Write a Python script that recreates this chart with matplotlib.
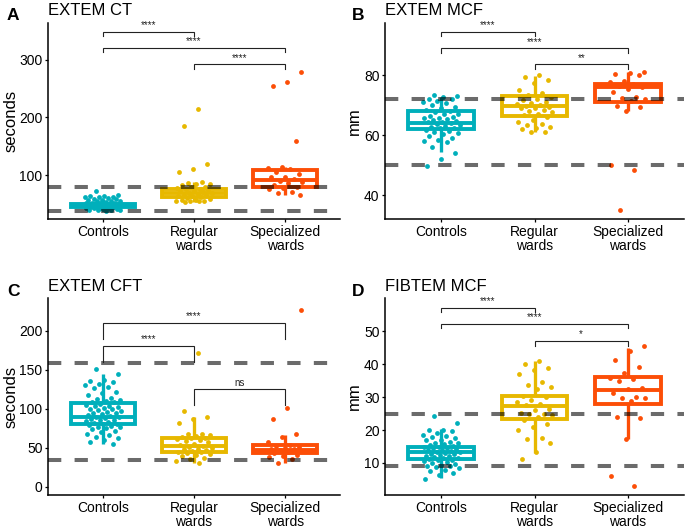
import matplotlib
matplotlib.use('Agg')
import matplotlib.pyplot as plt
import numpy as np

plt.rcParams['font.family'] = ['Liberation Sans', 'DejaVu Sans']

# ---------------- data ----------------
groups = ['Controls', 'Regular\nwards', 'Specialized\nwards']
colors = ['#00AFBB', '#E7B800', '#FC4E07']

# Panel A: EXTEM CT (seconds)
a_controls = [72, 65, 64, 63, 62, 62, 61, 60, 59, 58, 57, 56, 55, 54, 54, 53, 52, 52, 51, 51,
              50, 50, 49, 49, 48, 48, 48, 47, 47, 47, 46, 46, 46, 45, 45, 45, 44, 44, 44, 43,
              43, 42, 42, 41, 41, 40, 40, 39, 39, 38]
a_regular = [214, 186, 120, 111, 105, 87, 86, 85, 84, 83, 80, 79, 77, 76, 75, 74, 73, 72, 70,
             69, 68, 67, 66, 65, 64, 63, 62, 60, 58, 57, 56, 55, 55, 54, 54, 53]
a_special = [279, 261, 255, 159, 114, 112, 110, 105, 101, 97, 96, 93, 90, 88, 86, 82, 80, 78,
             75, 71, 68, 65]
# box stats: (q1, median, q3, whisker low, whisker high)
a_boxes = [(44, 47, 50, 38, 59), (62, 68, 75, 53, 87), (80, 91, 108, 65, 114)]
a_refs = [38, 79]
a_brackets = [(1, 2, 349, '****', 7.5), (1, 3, 321, '****', 7.5), (2, 3, 292.5, '****', 7.5)]
a_yticks = [100, 200, 300]

# Panel B: EXTEM MCF (mm)
b_controls = [73.4, 73.1, 72.8, 72.3, 72.0, 71.6, 71.2, 70.8, 70.1, 69.5, 69.0, 68.6, 68.2, 67.8,
              67.3, 67.0, 66.5, 66.2, 65.9, 65.7, 65.4, 65.0, 64.8, 64.5, 64.3, 64.0, 63.8, 63.5,
              63.2, 62.9, 62.6, 62.3, 61.8, 61.5, 61.2, 60.7, 60.3, 59.8, 59.0, 58.4, 58.0, 57.8,
              56.2, 54.0, 52.1, 49.8]
b_regular = [80.3, 79.5, 78.4, 77.5, 75.1, 74.3, 73.4, 72.8, 72.3, 71.8, 71.2, 70.8, 70.5, 70.1,
             69.8, 69.5, 69.0, 69.0, 68.6, 68.2, 67.9, 67.3, 66.8, 66.2, 65.2, 64.5, 63.8, 63.5,
             62.7, 62.5, 62.0, 61.2, 61.0]
b_special = [81.2, 80.8, 80.4, 80.2, 78.1, 77.8, 77.0, 76.5, 76.0, 75.5, 74.5, 72.9, 72.6, 72.3,
             71.5, 69.9, 69.5, 68.2, 50.1, 48.4, 35.0]
b_boxes = [(62.2, 64.2, 68.0, 54.5, 72.8), (66.4, 69.8, 73.0, 61.2, 79.7), (71.3, 76.0, 77.2, 68.2, 81.2)]
b_refs = [50, 72]
b_brackets = [(1, 2, 94.5, '****', 1.5), (1, 3, 89.0, '****', 1.5), (2, 3, 83.7, '**', 1.5)]
b_yticks = [40, 60, 80]

# Panel C: EXTEM CFT (seconds)
c_controls = [151, 145, 137, 136, 134, 132, 130, 128, 126, 122, 120, 117, 114, 113, 111, 110, 109,
              108, 106, 105, 104, 103, 102, 101, 100, 99, 98, 97, 96, 95, 94, 93, 92, 91, 90, 89,
              88, 87, 86, 85, 84, 83, 82, 81, 80, 79, 78, 77, 76, 75, 74, 72, 70, 68, 66, 64, 62,
              60, 57, 55]
c_regular = [172, 97, 90, 87, 82, 68, 67, 66, 65, 64, 63, 62, 61, 60, 59, 57, 55, 53, 52, 51, 50,
             49, 48, 47, 46, 45, 44, 43, 42, 41, 40, 37, 35, 33, 31]
c_special = [226, 101, 87, 67, 64, 57, 54, 52, 51, 50, 49, 48, 47, 46, 44, 43, 41, 39, 38, 35, 31]
c_boxes = [(80.4, 90, 107.3, 55, 144.5), (44.5, 52, 62, 31, 90), (43.2, 47.5, 53.8, 31, 66.5)]
c_refs = [34, 159]
c_brackets = [(1, 3, 210, '****', 21), (1, 2, 180.4, '****', 21), (2, 3, 124.8, 'ns', 20)]
c_yticks = [0, 50, 100, 150, 200]

# Panel D: FIBTEM MCF (mm)
d_controls = [24.2, 22.2, 20.0, 20.0, 19.8, 19.0, 18.5, 18.3, 18.0, 17.5, 17.0, 17.0, 16.5, 16.2,
              16.0, 15.8, 15.5, 15.3, 15.0, 14.8, 14.6, 14.4, 14.2, 14.0, 13.8, 13.6, 13.4, 13.2,
              13.0, 12.8, 12.6, 12.4, 12.2, 12.0, 11.8, 11.6, 11.4, 11.2, 11.0, 10.8, 10.5, 10.2,
              10.0, 9.8, 9.5, 9.2, 9.0, 8.8, 8.5, 8.0, 7.5, 7.1, 6.5, 5.1]
d_regular = [41.1, 40.0, 38.8, 38.1, 37.1, 34.7, 33.7, 33.0, 32.6, 30.2, 30.0, 29.2, 28.6, 28.0,
             27.5, 26.5, 26.1, 25.1, 25.0, 24.8, 24.5, 24.0, 23.0, 21.9, 20.9, 20.0, 17.5, 17.2,
             16.0, 13.4, 11.1]
d_special = [45.6, 44.1, 41.3, 39.0, 37.4, 35.9, 35.4, 34.9, 32.9, 32.6, 31.2, 29.9, 29.8, 29.6,
             28.8, 24.1, 23.6, 17.4, 6.0, 3.0]
d_boxes = [(11.3, 13.2, 14.9, 5.3, 20.2), (23.3, 27.3, 30.3, 13.1, 41.1), (27.9, 32.1, 36.1, 17.2, 45.0)]
d_refs = [9, 25]
d_brackets = [(1, 2, 57.2, '****', 1.2), (1, 3, 52.2, '****', 1.3), (2, 3, 47.1, '*', 1.5)]
d_yticks = [10, 20, 30, 40, 50]

W, H = 685, 529
fig = plt.figure(figsize=(W / 100, H / 100), dpi=100)


def px_rect(l, t, r, b):
    return [l / W, 1 - b / H, (r - l) / W, (b - t) / H]


panels = [
    dict(rect=px_rect(48, 23, 340, 219), ylim=(23.5, 364.3), data=[a_controls, a_regular, a_special],
         boxes=a_boxes, refs=a_refs, brackets=a_brackets, yticks=a_yticks,
         title='EXTEM CT', letter='A', ylabel='seconds', tpos=(48, 15), lpos=(7, 20.5), ylx=11),
    dict(rect=px_rect(385, 23, 684, 219), ylim=(32.1, 97.5), data=[b_controls, b_regular, b_special],
         boxes=b_boxes, refs=b_refs, brackets=b_brackets, yticks=b_yticks,
         title='EXTEM MCF', letter='B', ylabel='mm', tpos=(385, 15), lpos=(352, 20.5), ylx=354),
    dict(rect=px_rect(48, 298, 340, 495), ylim=(-10.6, 241.9), data=[c_controls, c_regular, c_special],
         boxes=c_boxes, refs=c_refs, brackets=c_brackets, yticks=c_yticks,
         title='EXTEM CFT', letter='C', ylabel='seconds', tpos=(48, 291), lpos=(7, 295.5), ylx=11),
    dict(rect=px_rect(385, 298, 684, 495), ylim=(0.28, 60.1), data=[d_controls, d_regular, d_special],
         boxes=d_boxes, refs=d_refs, brackets=d_brackets, yticks=d_yticks,
         title='FIBTEM MCF', letter='D', ylabel='mm', tpos=(385, 291), lpos=(352, 295.5), ylx=354),
]

LW = 2.8
for p in panels:
    ax = fig.add_axes(p['rect'])
    ax.set_xlim(0.4, 3.6)
    ax.set_ylim(*p['ylim'])
    stats = []
    for (q1, med, q3, lo, hi) in p['boxes']:
        stats.append(dict(q1=q1, med=med, q3=q3, whislo=lo, whishi=hi, fliers=[]))
    bp = ax.bxp(stats, positions=[1, 2, 3], widths=0.7, patch_artist=True,
                showcaps=False, showfliers=False, zorder=2)
    for i, c in enumerate(colors):
        bp['boxes'][i].set(facecolor='white', edgecolor=c, linewidth=LW, joinstyle='miter')
        bp['medians'][i].set(color=c, linewidth=LW, solid_capstyle='butt')
        for w in bp['whiskers'][2 * i:2 * i + 2]:
            w.set(color=c, linewidth=LW * 0.85, solid_capstyle='butt')
    for i, (vals, c) in enumerate(zip(p['data'], colors)):
        n = len(vals)
        offs = ((np.arange(n) * 0.6180339887 + 0.31 * (i + 1)) % 1.0 - 0.5) * 0.4
        ax.scatter(np.full(n, i + 1) + offs, vals, s=12, color=c, linewidths=0, zorder=3)
    for r in p['refs']:
        ax.axhline(r, color='black', alpha=0.58, linewidth=2.9, linestyle=(0, (3.3, 3.3)), zorder=4)
    for (g1, g2, y, lab, tip) in p['brackets']:
        ax.plot([g1, g1, g2, g2], [y - tip, y, y, y - tip], color='#222222', linewidth=0.8,
                zorder=5, solid_joinstyle='miter')
        ax.annotate(lab, xy=((g1 + g2) / 2, y), xytext=(0, 1.2), textcoords='offset points',
                    ha='center', va='bottom', fontsize=7, color='#222222')
    ax.set_xticks([1, 2, 3])
    ax.set_xticklabels(groups, fontsize=10, linespacing=1.0)
    ax.set_yticks(p['yticks'])
    ax.set_yticklabels([str(t) for t in p['yticks']], fontsize=10)
    for s in ['top', 'right']:
        ax.spines[s].set_visible(False)
    for s in ['left', 'bottom']:
        ax.spines[s].set_linewidth(1.1)
    ax.tick_params(axis='both', length=2.5, width=0.9, pad=1.5, colors='black')
    ax.tick_params(axis='x', pad=2)
    fig.text(p['tpos'][0] / W, 1 - p['tpos'][1] / H, p['title'], fontsize=12, va='baseline', ha='left')
    fig.text(p['lpos'][0] / W, 1 - p['lpos'][1] / H, p['letter'], fontsize=12.5, fontweight='bold',
             va='baseline', ha='left')
    r = p['rect']
    fig.text(p['ylx'] / W, r[1] + r[3] / 2, p['ylabel'], fontsize=12, rotation=90,
             va='center', ha='center')

fig.savefig('out.png', dpi=100)
